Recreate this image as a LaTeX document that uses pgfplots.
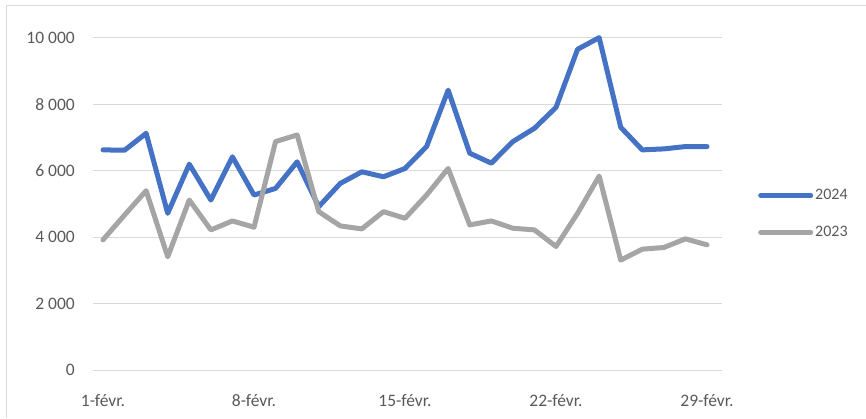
\documentclass[border=0pt]{standalone}
\usepackage{pgfplots}
\pgfplotsset{compat=1.18}
\usepackage{fontspec}
\setmainfont{Carlito}
\definecolor{blueS}{HTML}{4472C4}
\definecolor{grayS}{HTML}{A5A5A5}
\definecolor{gridc}{HTML}{D9D9D9}
\definecolor{txt}{HTML}{595959}
\begin{document}
\begin{tikzpicture}
\useasboundingbox (0pt,0pt) rectangle (866pt,418pt);
\draw[gridc, line width=1pt] (6pt,0pt) -- (6pt,412pt) -- (866pt,412pt);
\begin{axis}[
  at={(93pt,48pt)}, anchor=south west,
  scale only axis, width=629pt, height=332pt,
  xmin=0.536, xmax=29.695, ymin=0, ymax=10000,
  clip=false,
  scaled y ticks=false,
  axis line style={draw=none},
  major tick length=0pt,
  ymajorgrids, grid style={gridc, line width=1pt},
  ytick={0,2000,4000,6000,8000,10000},
  yticklabels={0,2 000,4 000,6 000,8 000,10 000},
  xtick={1,8,15,22,29},
  xticklabels={1-févr.,8-févr.,15-févr.,22-févr.,29-févr.},
  tick label style={font=\fontsize{17.5}{20}\selectfont, text=txt},
  yticklabel style={anchor=east, inner sep=0pt, xshift=-18pt},
  xticklabel style={anchor=base, inner sep=0pt, yshift=-36pt},
  legend style={at={(axis description cs:1.0572,0.47)}, anchor=west,
    draw=none, fill=none, font=\fontsize{16}{19}\selectfont, text=txt,
    row sep=21pt, inner sep=0pt, cells={anchor=west}},
  legend image code/.code={\draw[#1, line cap=round] (2.5pt,0pt) -- (52.5pt,0pt);},
  every axis plot/.append style={line width=5pt, line join=round, line cap=round},
]
\addplot[blueS] coordinates {
(1,6630)(2,6620)(3,7130)(4,4720)(5,6200)(6,5120)(7,6420)(8,5270)(9,5470)(10,6270)
(11,4920)(12,5620)(13,5970)(14,5820)(15,6070)(16,6730)(17,8430)(18,6530)(19,6230)(20,6880)
(21,7280)(22,7910)(23,9660)(24,10010)(25,7310)(26,6630)(27,6660)(28,6730)(29,6730)};
\addlegendentry{2024}
\addplot[grayS] coordinates {
(1,3920)(2,4670)(3,5400)(4,3410)(5,5120)(6,4220)(7,4490)(8,4300)(9,6880)(10,7080)
(11,4770)(12,4340)(13,4250)(14,4770)(15,4570)(16,5270)(17,6070)(18,4370)(19,4490)(20,4270)
(21,4220)(22,3720)(23,4720)(24,5840)(25,3310)(26,3640)(27,3690)(28,3950)(29,3770)};
\addlegendentry{2023}
\end{axis}
\end{tikzpicture}
\end{document}
